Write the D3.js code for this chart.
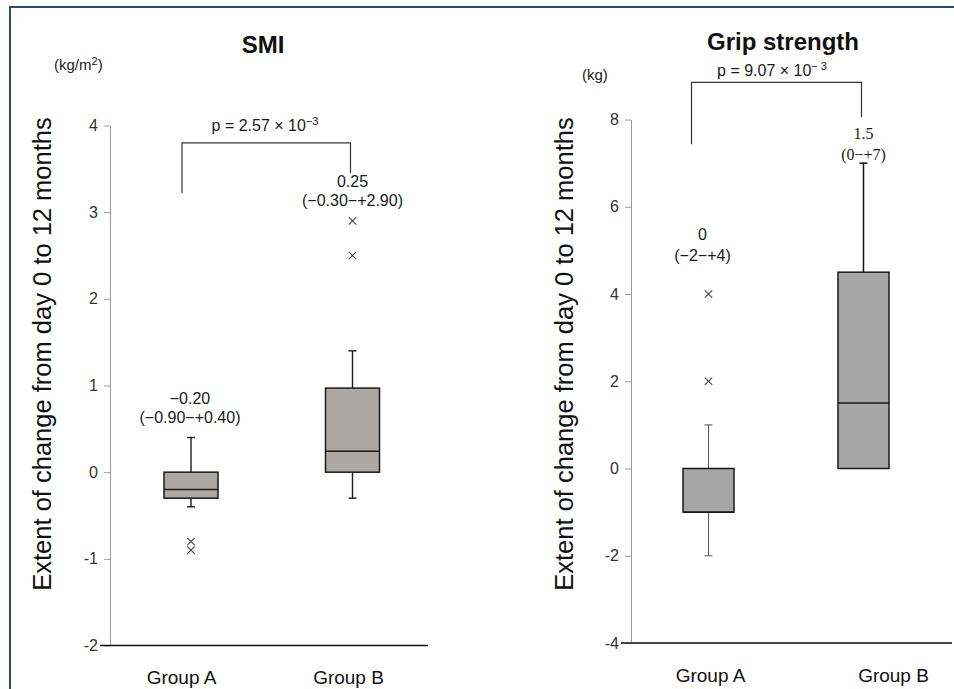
<!DOCTYPE html>
<html lang="en">
	<head>
		<meta charset="utf-8">
		<title>SMI and grip strength</title>
		<script type="text/javascript" src="https://cdn.jsdelivr.net/npm/d3@7"></script>
		<style type="text/css">
			body { margin: 0; background: #fff; }
			text { font-family: 'Liberation Sans', Arial, sans-serif; }
			.serif { font-family: 'Liberation Serif', 'Times New Roman', serif; }
		</style>
	</head>
	<body>
		<script type="text/javascript">
			var groups = ['Group A', 'Group B'];

			// SMI (kg/m2)
			var smiTicks = [-2, -1, 0, 1, 2, 3, 4];
			var smiLow = [-0.4, -0.3];
			var smiQ1 = [-0.3, 0];
			var smiMedian = [-0.2, 0.24];
			var smiQ3 = [0, 0.97];
			var smiHigh = [0.4, 1.4];
			var smiOutliers = [[-0.8, -0.9], [2.5, 2.9]];
			var smiNotes = [['\u22120.20', '(\u22120.90\u2212+0.40)'], ['0.25', '(\u22120.30\u2212+2.90)']];

			// Grip strength (kg)
			var gripTicks = [-4, -2, 0, 2, 4, 6, 8];
			var gripLow = [-2, 0];
			var gripQ1 = [-1, 0];
			var gripMedian = [-1, 1.5];
			var gripQ3 = [0, 4.5];
			var gripHigh = [1, 7];
			var gripOutliers = [[2, 4], []];
			var gripNotes = [['0', '(\u22122\u2212+4)'], ['1.5', '(0\u2212+7)']];

			var w = 954;
			var h = 689;

			var svg = d3.select('body').append('svg').attr('width', w).attr('height', h);

			// frame
			svg.append('path')
				.attr('d', 'M10,' + h + 'V7H' + w)
				.attr('fill', 'none')
				.attr('stroke', '#2a4a86')
				.attr('stroke-width', 2);

			var drawPanel = function(p) {
				var y = d3.scaleLinear().domain(p.domain).range(p.yRange);
				var xBox = d3.scalePoint().domain(groups).range(p.boxRange);
				var xLab = d3.scalePoint().domain(groups).range(p.labelRange);
				var g = svg.append('g');

				// y axis
				var yAxis = d3.axisLeft(y).tickValues(p.ticks).tickSize(6).tickSizeOuter(0).tickPadding(6)
					.tickFormat(function(d) { return String(d); });
				var ya = g.append('g')
					.attr('transform', 'translate(' + p.axisX + ',0)')
					.call(yAxis);
				ya.select('.domain').attr('stroke', '#9a9a9a');
				ya.selectAll('.tick line').attr('stroke', '#9a9a9a');
				ya.selectAll('.tick text').attr('fill', '#333').attr('font-size', 16);

				// baseline
				g.append('line')
					.attr('x1', p.axisX - 10).attr('x2', p.baseEnd)
					.attr('y1', y(p.domain[0])).attr('y2', y(p.domain[0]))
					.attr('stroke', '#111').attr('stroke-width', 1.5);

				// group labels
				var xa = g.append('g')
					.attr('transform', 'translate(0,' + (y(p.domain[0]) + 22) + ')')
					.call(d3.axisBottom(xLab).tickSize(0));
				xa.select('.domain').remove();
				xa.selectAll('.tick text').attr('fill', '#111').attr('font-size', 19);

				// whiskers
				groups.forEach(function(d, i) {
					var cx = xBox(d);
					var ws = p.whisker[i];
					if (p.low[i] < p.q1[i]) {
						g.append('line').attr('x1', cx).attr('x2', cx)
							.attr('y1', y(p.q1[i])).attr('y2', y(p.low[i]))
							.attr('stroke', ws.c).attr('stroke-width', ws.sw);
						g.append('line').attr('x1', cx - 4).attr('x2', cx + 4)
							.attr('y1', y(p.low[i])).attr('y2', y(p.low[i]))
							.attr('stroke', ws.c).attr('stroke-width', ws.sw);
					}
					g.append('line').attr('x1', cx).attr('x2', cx)
						.attr('y1', y(p.q3[i])).attr('y2', y(p.high[i]))
						.attr('stroke', ws.c).attr('stroke-width', ws.sw);
					g.append('line').attr('x1', cx - 4).attr('x2', cx + 4)
						.attr('y1', y(p.high[i])).attr('y2', y(p.high[i]))
						.attr('stroke', ws.c).attr('stroke-width', ws.sw);
				});

				// boxes
				g.selectAll('rect.box')
					.data(groups)
					.enter()
					.append('rect')
					.attr('class', 'box')
					.attr('x', function(d) { return xBox(d) - p.boxW / 2; })
					.attr('width', p.boxW)
					.attr('y', function(d, i) { return y(p.q3[i]); })
					.attr('height', function(d, i) { return y(p.q1[i]) - y(p.q3[i]); })
					.attr('fill', p.fill)
					.attr('stroke', '#1a1a1a')
					.attr('stroke-width', 1.5);

				g.selectAll('line.med')
					.data(groups)
					.enter()
					.append('line')
					.attr('class', 'med')
					.attr('x1', function(d) { return xBox(d) - p.boxW / 2; })
					.attr('x2', function(d) { return xBox(d) + p.boxW / 2; })
					.attr('y1', function(d, i) { return y(p.median[i]); })
					.attr('y2', function(d, i) { return y(p.median[i]); })
					.attr('stroke', '#1a1a1a')
					.attr('stroke-width', 1.5);

				// outliers
				var sym = d3.symbol().type(d3.symbolX).size(38);
				groups.forEach(function(d, i) {
					g.selectAll(null)
						.data(p.outliers[i])
						.enter()
						.append('path')
						.attr('d', sym)
						.attr('transform', function(v) { return 'translate(' + xBox(d) + ',' + y(v) + ')'; })
						.attr('fill', 'none')
						.attr('stroke', '#444')
						.attr('stroke-width', 1.1);
				});

				// median / range notes
				groups.forEach(function(d, i) {
					var top = d3.max([p.high[i]].concat(p.outliers[i]));
					var base = y(top) - p.noteGap[i];
					var t = g.append('text')
						.attr('class', p.noteSerif[i] ? 'serif' : null)
						.attr('text-anchor', 'middle')
						.attr('fill', '#1a1a1a')
						.style('font-size', p.noteSize[i] + 'px');
					t.append('tspan').attr('x', xBox(d) + p.noteDx[i]).attr('y', base - p.noteLead[i]).text(p.notes[i][0]);
					t.append('tspan').attr('x', xBox(d) + p.noteDx[i]).attr('y', base).text(p.notes[i][1]);
				});

				// significance bracket
				var bx0 = xBox(groups[0]) + p.bracketDx[0];
				var bx1 = xBox(groups[1]) + p.bracketDx[1];
				g.append('path')
					.attr('d', 'M' + bx0 + ',' + y(p.bracket[1]) + 'V' + y(p.bracket[0]) + 'H' + bx1 + 'V' + y(p.bracket[2]))
					.attr('fill', 'none')
					.attr('stroke', '#333')
					.attr('stroke-width', 1.2);

				var pt = g.append('text')
					.attr('x', p.pX).attr('y', p.pY)
					.attr('text-anchor', 'middle')
					.attr('fill', '#1a1a1a')
					.style('font-size', '16px');
				pt.append('tspan').text(p.pText);
				pt.append('tspan').attr('dy', -6).style('font-size', '11px').text(p.pExp);

				// titles
				g.append('text')
					.attr('x', p.titleX).attr('y', p.titleY)
					.attr('text-anchor', 'middle')
					.attr('font-weight', 'bold')
					.attr('fill', '#111')
					.style('font-size', p.titleSize + 'px')
					.text(p.title);

				var u = g.append('text')
					.attr('x', p.unitX).attr('y', p.unitY)
					.attr('fill', '#222')
					.style('font-size', '15px');
				u.append('tspan').text(p.unit);
				if (p.unitSup) {
					u.append('tspan').attr('dy', -5).style('font-size', '11px').text(p.unitSup);
					u.append('tspan').attr('dy', 5).text(')');
				}

				g.append('text')
					.attr('transform', 'translate(' + p.ytitleX + ',354) rotate(-90)')
					.attr('text-anchor', 'middle')
					.attr('fill', '#111')
					.style('font-size', '25.5px')
					.text('Extent of change from day 0 to 12 months');
			};

			drawPanel({
				domain: [-2, 4], yRange: [645.5, 125.5], ticks: smiTicks,
				axisX: 110, baseEnd: 428,
				boxRange: [191, 352.5], labelRange: [181, 348], boxW: 54,
				fill: '#aba8a6',
				low: smiLow, q1: smiQ1, median: smiMedian, q3: smiQ3, high: smiHigh, outliers: smiOutliers,
				whisker: [{c: '#1a1a1a', sw: 1.4}, {c: '#1a1a1a', sw: 1.4}],
				notes: smiNotes, noteGap: [15, 15], noteLead: [19, 19], noteDx: [-1, 0],
				noteSize: [16, 16], noteSerif: [false, false],
				bracket: [3.8, 3.22, 3.45], bracketDx: [-9, -2],
				pX: 265, pY: 131, pText: 'p = 2.57 \u00d7 10', pExp: '\u22123',
				title: 'SMI', titleX: 263, titleY: 53, titleSize: 24,
				unit: '(kg/m', unitSup: '2', unitX: 54, unitY: 70,
				ytitleX: 51
			});

			drawPanel({
				domain: [-4, 8], yRange: [643, 119.5], ticks: gripTicks,
				axisX: 631, baseEnd: 952,
				boxRange: [708.5, 863.5], labelRange: [710, 893], boxW: 51,
				fill: '#a6a6a6',
				low: gripLow, q1: gripQ1, median: gripMedian, q3: gripQ3, high: gripHigh, outliers: gripOutliers,
				whisker: [{c: '#555', sw: 1}, {c: '#111', sw: 1.5}],
				notes: gripNotes, noteGap: [33, 3], noteLead: [21, 21], noteDx: [-6, 0],
				noteSize: [16, 16], noteSerif: [false, true],
				bracket: [8.85, 7.43, 8.05], bracketDx: [-17, -2],
				pX: 772, pY: 76, pText: 'p = 9.07 \u00d7 10', pExp: '\u2212 3',
				title: 'Grip strength', titleX: 783, titleY: 50, titleSize: 24,
				unit: '(kg)', unitSup: null, unitX: 582, unitY: 80,
				ytitleX: 573
			});
		</script>
	</body>
</html>
